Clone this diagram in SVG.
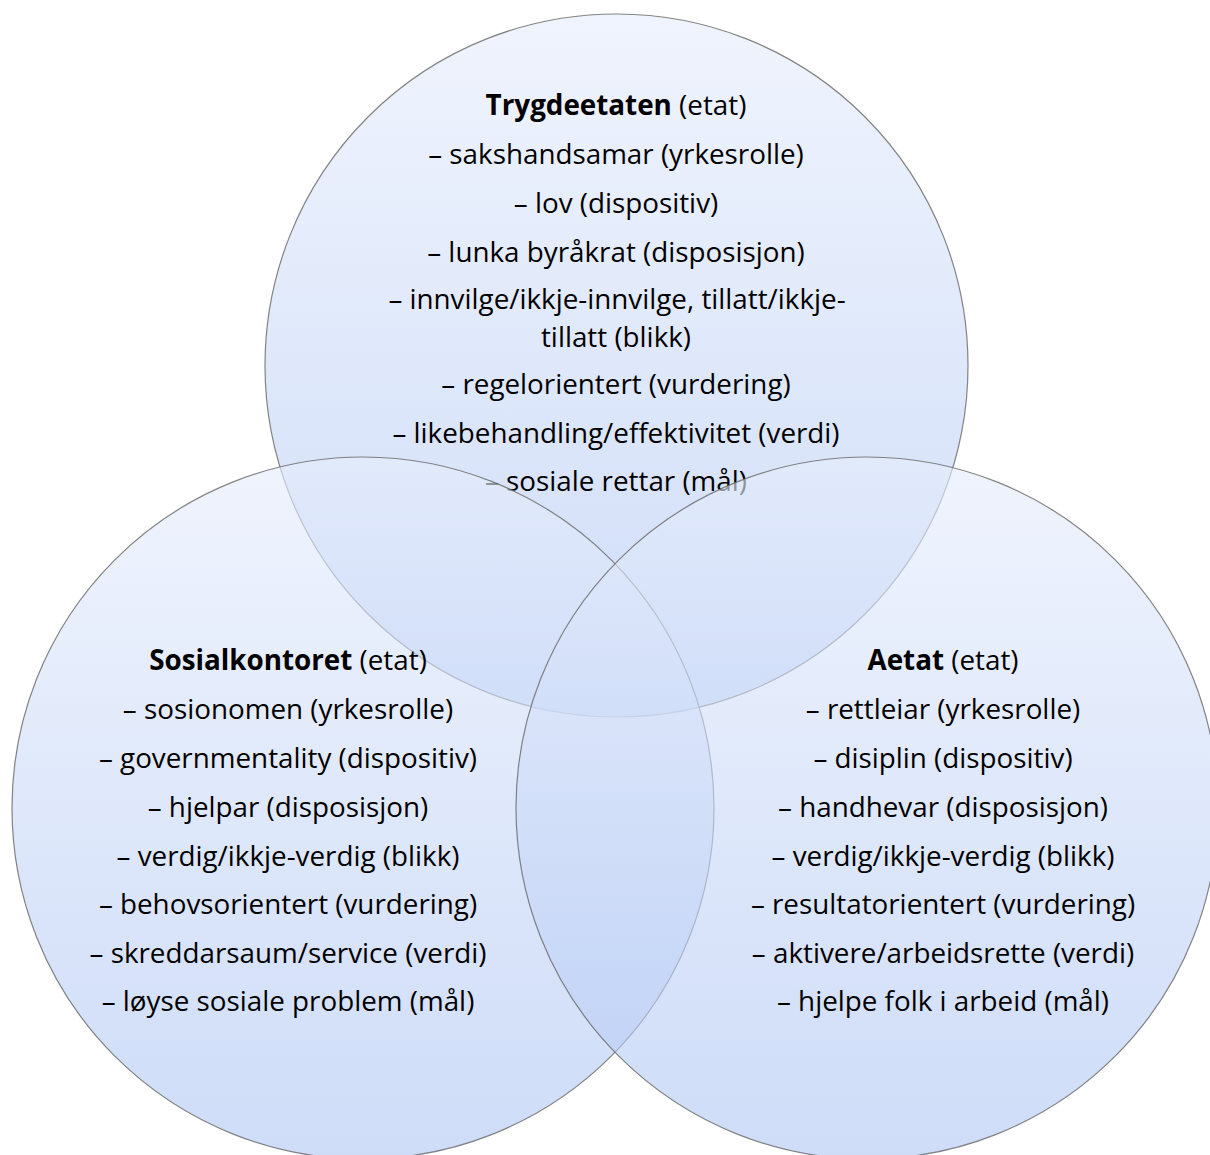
<svg xmlns="http://www.w3.org/2000/svg" width="1210" height="1155" viewBox="0 0 1210 1155">
<style>
.c{fill:url(#g);fill-opacity:0.62;stroke:#6f6f6f;stroke-opacity:0.85;stroke-width:1.2}
text{font-family:"Open Sans","Liberation Sans",sans-serif;font-size:27.8px;fill:#000;text-anchor:middle}
.b{font-weight:bold}
</style>
<defs>
<linearGradient id="g" x1="0" y1="0" x2="0" y2="1">
<stop offset="0" stop-color="#e6edfc"/>
<stop offset="1" stop-color="#b0c7f4"/>
</linearGradient>
</defs>
<rect width="1210" height="1155" fill="#fff"/>
<g id="trygdeetaten">
<circle class="c" cx="616.5" cy="365.5" r="351.5"/>
<text x="616" y="115"><tspan class="b">Trygdeetaten</tspan> (etat)</text>
<text x="616" y="164">– sakshandsamar (yrkesrolle)</text>
<text x="616" y="213">– lov (dispositiv)</text>
<text x="616" y="262">– lunka byråkrat (disposisjon)</text>
<text x="617" y="309">– innvilge/ikkje-innvilge, tillatt/ikkje-</text>
<text x="616" y="347">tillatt (blikk)</text>
<text x="616" y="394">– regelorientert (vurdering)</text>
<text x="616" y="443">– likebehandling/effektivitet (verdi)</text>
<text x="616" y="491">– sosiale rettar (mål)</text>
</g>
<g id="sosialkontoret">
<circle class="c" cx="363" cy="808" r="351"/>
<text x="288" y="670"><tspan class="b">Sosialkontoret</tspan> (etat)</text>
<text x="288" y="719">– sosionomen (yrkesrolle)</text>
<text x="288" y="768">– governmentality (dispositiv)</text>
<text x="288" y="817">– hjelpar (disposisjon)</text>
<text x="288" y="866">– verdig/ikkje-verdig (blikk)</text>
<text x="288" y="914">– behovsorientert (vurdering)</text>
<text x="288" y="963">– skreddarsaum/service (verdi)</text>
<text x="288" y="1011">– løyse sosiale problem (mål)</text>
</g>
<g id="aetat">
<circle class="c" cx="867" cy="808" r="351"/>
<text x="943" y="670"><tspan class="b">Aetat</tspan> (etat)</text>
<text x="943" y="719">– rettleiar (yrkesrolle)</text>
<text x="943" y="768">– disiplin (dispositiv)</text>
<text x="943" y="817">– handhevar (disposisjon)</text>
<text x="943" y="866">– verdig/ikkje-verdig (blikk)</text>
<text x="943" y="914">– resultatorientert (vurdering)</text>
<text x="943" y="963">– aktivere/arbeidsrette (verdi)</text>
<text x="943" y="1011">– hjelpe folk i arbeid (mål)</text>
</g>
<g id="connectors"></g>
</svg>
